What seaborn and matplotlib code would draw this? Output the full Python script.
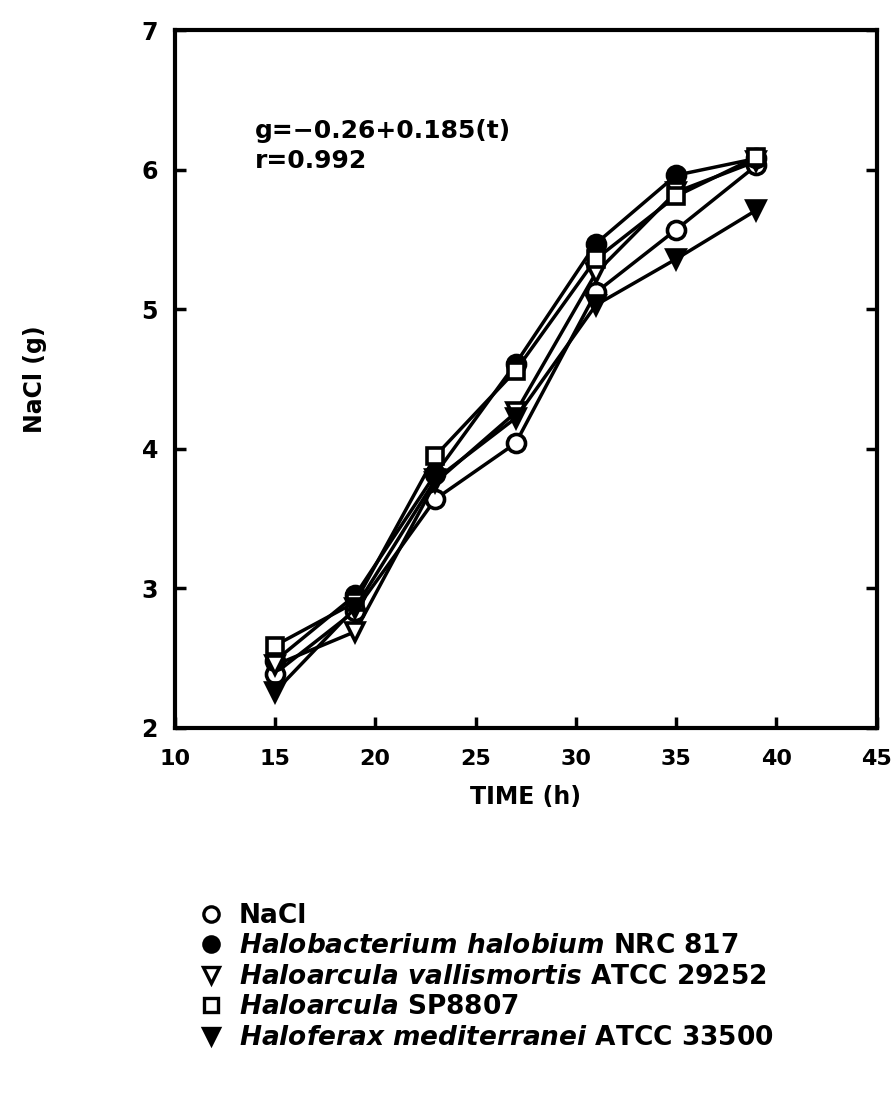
import matplotlib
matplotlib.use("Agg")
import matplotlib.pyplot as plt
from matplotlib.lines import Line2D
import pandas as pd
import seaborn as sns

time_h = [15, 19, 23, 27, 31, 35, 39]
nacl = [2.39, 2.84, 3.64, 4.04, 5.12, 5.57, 6.03]
h_halobium = [2.48, 2.95, 3.82, 4.61, 5.47, 5.96, 6.08]
h_vallismortis = [2.45, 2.69, 3.76, 4.26, 5.26, 5.84, 6.06]
h_sp8807 = [2.59, 2.90, 3.95, 4.56, 5.36, 5.81, 6.09]
h_mediterranei = [2.26, 2.86, 3.78, 4.22, 5.03, 5.36, 5.71]

labels = [
    "NaCl",
    r"$\it{Halobacterium\ halobium}$ NRC 817",
    r"$\it{Haloarcula\ vallismortis}$ ATCC 29252",
    r"$\it{Haloarcula}$ SP8807",
    r"$\it{Haloferax\ mediterranei}$ ATCC 33500",
]
series = [nacl, h_halobium, h_vallismortis, h_sp8807, h_mediterranei]
markers = ["o", "o", "v", "s", "v"]
faces = ["white", "black", "white", "white", "black"]

df = pd.concat(
    [pd.DataFrame({"time": time_h, "nacl": vals, "series": lab}) for lab, vals in zip(labels, series)],
    ignore_index=True,
)

sns.set_theme(style="ticks")
plt.rcParams["font.family"] = ["DejaVu Sans"]
plt.rcParams["font.weight"] = "bold"
plt.rcParams["mathtext.it"] = "DejaVu Sans:italic:bold"
plt.rcParams["mathtext.fontset"] = "custom"
for key in ["text.color", "axes.labelcolor", "xtick.color", "ytick.color", "axes.edgecolor"]:
    plt.rcParams[key] = "black"

fig = plt.figure(figsize=(8.91, 10.93), dpi=100)
ax = fig.add_axes([0.196, 0.334, 0.788, 0.6385])

draw_order = [4, 2, 0, 3, 1]
for i in draw_order:
    sub = df[df["series"] == labels[i]]
    sns.lineplot(data=sub, x="time", y="nacl", ax=ax, color="black", lw=2.5,
                 marker=markers[i], markersize=13 if markers[i] != "s" else 12,
                 markerfacecolor=faces[i], markeredgecolor="black", markeredgewidth=2.6,
                 legend=False, zorder=3 + i)

ax.set_xlim(10, 45)
ax.set_ylim(2, 7)
ax.set_xticks(range(10, 46, 5))
ax.set_yticks(range(2, 8))
ax.tick_params(direction="in", length=8, width=2.5, labelsize=16, right=True)
ax.tick_params(axis="x", pad=15)
ax.tick_params(axis="y", pad=12, labelsize=17)
for t in ax.get_xticklabels() + ax.get_yticklabels():
    t.set_fontweight("bold")
for s in ax.spines.values():
    s.set_linewidth(3)
ax.set_xlabel("TIME (h)", fontsize=17, fontweight="bold", labelpad=12)
ax.set_ylabel("NaCl (g)", fontsize=17, fontweight="bold", labelpad=68)

ax.text(0.114, 0.855, "g=\u22120.26+0.185(t)", transform=ax.transAxes, fontsize=18,
        fontweight="bold", va="center")
ax.text(0.114, 0.812, "r=0.992", transform=ax.transAxes, fontsize=18,
        fontweight="bold", va="center")

handles = [Line2D([], [], ls="none", marker=m, markersize=11 if m != "s" else 10,
                  markerfacecolor=f, markeredgecolor="black", markeredgewidth=2.4)
           for m, f in zip(markers, faces)]
fig.legend(handles, labels, loc="upper left", bbox_to_anchor=(0.222, 0.174),
           frameon=False, fontsize=19, handletextpad=0.55, labelspacing=0.17,
           handlelength=1.0, borderpad=0, borderaxespad=0)

fig.savefig("out.png", dpi=100)
